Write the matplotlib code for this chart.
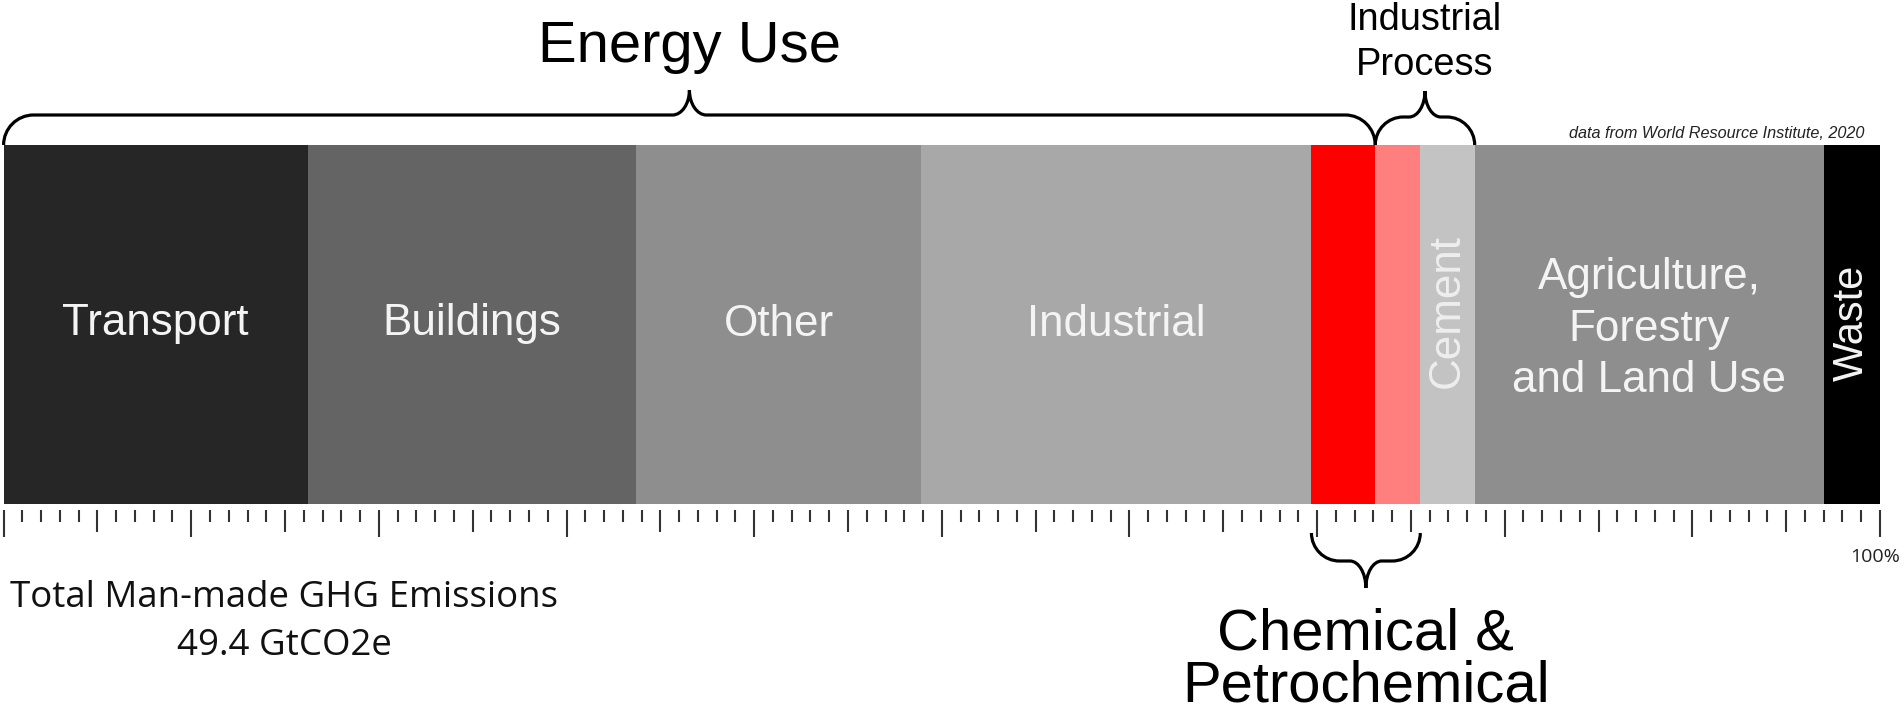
import numpy as np
import matplotlib
matplotlib.use("Agg")
import matplotlib.pyplot as plt
from matplotlib.path import Path
from matplotlib.patches import PathPatch

# ---- data (share of total man-made GHG emissions, %) ----
categories = ["Transport", "Buildings", "Other", "Industrial",
              "Chemical & Petrochemical (energy)", "Chemical & Petrochemical (process)",
              "Cement", "Agriculture,\nForestry\nand Land Use", "Waste"]
shares = [16.2, 17.5, 15.2, 20.8, 3.4, 2.4, 2.9, 18.6, 3.0]
bar_labels = ["Transport", "Buildings", "Other", "Industrial", "", "", "Cement",
              "Agriculture,\nForestry\nand Land Use", "Waste"]
label_rotation = [0, 0, 0, 0, 0, 0, 90, 0, 90]
colors = ["#262626", "#646464", "#8e8e8e", "#a8a8a8", "#fe0000", "#ff7f7f",
          "#c3c3c3", "#8e8e8e", "#000000"]
label_colors = ["#f4f4f4"] * 6 + ["#eeeeee", "#f4f4f4", "#f4f4f4"]
label_sizes = [31.7] * 8 + [30]

# groups: (label, first index, last index)
energy_group = ("Energy Use", 0, 4)
process_group = ("Industrial\nProcess", 5, 6)
chem_group = ("Chemical &\nPetrochemical", 4, 5)
total_text = "Total Man-made GHG Emissions"
total_value = "49.4 GtCO2e"
source_text = "data from World Resource Institute, 2020"

# ---- layout ----
W, H = 1904, 712
PX_PER_PCT = 18.764
X0_PX = 3.6
fig = plt.figure(figsize=(W / 100, H / 100), dpi=100)
xlim = (-X0_PX / PX_PER_PCT, (W - X0_PX) / PX_PER_PCT)

ax = fig.add_axes([0, 0, 1, 1])
ax.set_xlim(*xlim)
ax.set_ylim(H, 0)
ax.axis("off")

lefts = np.concatenate([[0], np.cumsum(shares)[:-1]])
rights = lefts + np.array(shares)
bar_top, bar_bot = 145, 504
ax.barh((bar_top + bar_bot) / 2, shares, left=lefts, height=bar_bot - bar_top,
        color=colors, edgecolor="none")

for l, s, lab, rot, c, fs in zip(lefts, shares, bar_labels, label_rotation,
                                 label_colors, label_sizes):
    if not lab:
        continue
    if rot == 0:
        yc = 329 if "\n" in lab else 324
    else:
        yc = 311 if lab == "Cement" else 323
    ax.text(l + s / 2, yc, lab, ha="center", va="center", rotation=rot,
            fontsize=fs, color=c, family="Liberation Sans", linespacing=1.33)

# ---- ruler ticks ----
def ruler(length_px, locs):
    rax = fig.add_axes([0, (H - 510) / H, 1, 0.0001])
    rax.set_xlim(*xlim)
    rax.set_facecolor("none")
    for sp in rax.spines.values():
        sp.set_visible(False)
    rax.set_yticks([])
    rax.set_xticks(locs)
    rax.set_xticklabels([])
    rax.tick_params(axis="x", direction="out", length=length_px * 0.72,
                    width=1.5, color="#333333")
    return rax

ruler(12, [v for v in np.arange(0, 101, 1) if v % 5 != 0])
ruler(22, [v for v in np.arange(0, 101, 5) if v % 10 != 0])
ruler(27, np.arange(0, 101, 10))

ax.text(xlim[1] - 4 / PX_PER_PCT, 562, "100%", ha="right", va="baseline",
        fontsize=14, family="Open Sans", color="#222222")

# ---- braces ----
def brace(x0, x1, y_end, y_mid, y_tip, re_px, rm_px, lw=2.3):
    k = 0.552
    re = re_px / PX_PER_PCT
    rm = rm_px / PX_PER_PCT
    xm = (x0 + x1) / 2
    verts = [
        (x0, y_end),
        (x0, y_end + k * (y_mid - y_end)), (x0 + re - k * re, y_mid), (x0 + re, y_mid),
        (xm - rm, y_mid),
        (xm - rm + k * rm, y_mid), (xm, y_mid + (1 - k) * (y_tip - y_mid)), (xm, y_tip),
        (xm, y_mid + (1 - k) * (y_tip - y_mid)), (xm + rm - k * rm, y_mid), (xm + rm, y_mid),
        (x1 - re, y_mid),
        (x1 - re + k * re, y_mid), (x1, y_end + k * (y_mid - y_end)), (x1, y_end),
    ]
    codes = [Path.MOVETO, Path.CURVE4, Path.CURVE4, Path.CURVE4, Path.LINETO,
             Path.CURVE4, Path.CURVE4, Path.CURVE4,
             Path.CURVE4, Path.CURVE4, Path.CURVE4, Path.LINETO,
             Path.CURVE4, Path.CURVE4, Path.CURVE4]
    ax.add_patch(PathPatch(Path(verts, codes), fill=False, lw=lw,
                           edgecolor="black", capstyle="butt"))
    return xm

xm = brace(lefts[energy_group[1]], rights[energy_group[2]], 145, 115, 90, 30, 17)
ax.text(xm, 62, energy_group[0], ha="center", va="baseline", fontsize=41.8,
        family="Liberation Sans")

xm = brace(lefts[process_group[1]], rights[process_group[2]], 145, 117, 91, 28, 16)
l1, l2 = process_group[0].split("\n")
ax.text(xm, 30, l1, ha="center", va="baseline", fontsize=27.4, family="Liberation Sans")
ax.text(xm, 75, l2, ha="center", va="baseline", fontsize=27.4, family="Liberation Sans")

xm = brace(lefts[chem_group[1]], rights[chem_group[2]], 533, 561, 588, 28, 16)
l1, l2 = chem_group[0].split("\n")
ax.text(xm, 649, l1, ha="center", va="baseline", fontsize=41.8, family="Liberation Sans")
ax.text(xm, 701, l2, ha="center", va="baseline", fontsize=41.8, family="Liberation Sans")

# ---- notes ----
ax.text((1864 - X0_PX) / PX_PER_PCT, 138, source_text, ha="right", va="baseline",
        fontsize=11.7, style="italic", family="Liberation Sans", color="#222222")
ax.text((284 - X0_PX) / PX_PER_PCT, 607, total_text, ha="center", va="baseline",
        fontsize=26.4, family="Open Sans", color="#111111")
ax.text((284 - X0_PX) / PX_PER_PCT, 655, total_value, ha="center", va="baseline",
        fontsize=26.4, family="Open Sans", color="#111111")

fig.savefig("out.png", dpi=100)
